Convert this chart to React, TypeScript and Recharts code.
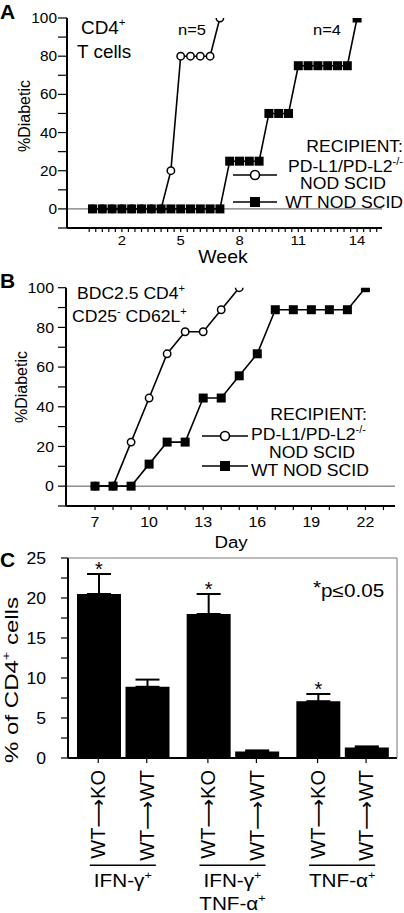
import React from 'react';
import { LineChart, Line, XAxis, YAxis, ReferenceLine, BarChart, Bar, ErrorBar } from 'recharts';

const FONT = '"Liberation Sans", Arial, Helvetica, "DejaVu Sans", sans-serif';

// ---------- Panel A : CD4+ T cells, % diabetic by week ----------
const weeksKO_A = [0.5, 1.0, 1.5, 2.0, 2.5, 3.0, 3.5, 4.0, 4.5, 5.0, 5.5, 6.0, 6.5, 7.0];
const diabeticKO_A = [0, 0, 0, 0, 0, 0, 0, 0, 20, 80, 80, 80, 80, 100];
const weeksWT_A = [0.5, 1.0, 1.5, 2.0, 2.5, 3.0, 3.5, 4.0, 4.5, 5.0, 5.5, 6.0, 6.5, 7.0, 7.5, 8.0, 8.5, 9.0, 9.5, 10.0, 10.5, 11.0, 11.5, 12.0, 12.5, 13.0, 13.5, 14.0];
const diabeticWT_A = [0, 0, 0, 0, 0, 0, 0, 0, 0, 0, 0, 0, 0, 0, 25, 25, 25, 25, 50, 50, 50, 75, 75, 75, 75, 75, 75, 100];
const weekLabels = [2, 5, 8, 11, 14];

// ---------- Panel B : BDC2.5 CD4+ CD25- CD62L+, % diabetic by day ----------
const daysKO_B = [7, 8, 9, 10, 11, 12, 13, 14, 15];
const diabeticKO_B = [0, 0, 22.2, 44.4, 66.7, 77.8, 77.8, 88.9, 100];
const daysWT_B = [7, 8, 9, 10, 11, 12, 13, 14, 15, 16, 17, 18, 19, 20, 21, 22];
const diabeticWT_B = [0, 0, 0, 11.1, 22.2, 22.2, 44.4, 44.4, 55.6, 66.7, 88.9, 88.9, 88.9, 88.9, 88.9, 100];
const dayLabels = [7, 10, 13, 16, 19, 22];
const dayTicks = [7, 8, 9, 10, 11, 12, 13, 14, 15, 16, 17, 18, 19, 20, 21, 22, 23];

const pctTicks = [-10, 0, 10, 20, 30, 40, 50, 60, 70, 80, 90, 100];

// ---------- Panel C : cytokine+ % of CD4+ cells ----------
const cytokineGroups = ['IFN-γ+', 'IFN-γ+ TNF-α+', 'TNF-α+'];
const groupLabelLines = [['IFN-γ'], ['IFN-γ', 'TNF-α'], ['TNF-α']];
const transferLabels = ['WT⟶KO', 'WT⟶WT'];
const pctKO_C = [20.5, 18.0, 7.1];
const semKO_C = [2.5, 2.5, 0.9];
const pctWT_C = [8.9, 0.8, 1.3];
const semWT_C = [0.9, 0.15, 0.15];
const significant = [true, true, true];
const cTicks = [0, 2.5, 5, 7.5, 10, 12.5, 15, 17.5, 20, 22.5, 25];

// minor week ticks every third of a week
const weekTicks = Array.from({ length: 45 }, (_, i) => (i + 1) / 3);

const koA = weeksKO_A.map((x, i) => ({ x, y: diabeticKO_A[i] }));
const wtA = weeksWT_A.map((x, i) => ({ x, y: diabeticWT_A[i] }));
const koB = daysKO_B.map((x, i) => ({ x, y: diabeticKO_B[i] }));
const wtB = daysWT_B.map((x, i) => ({ x, y: diabeticWT_B[i] }));
const cData = cytokineGroups.map((g, i) => ({
  group: g,
  ko: pctKO_C[i],
  koErr: [0, semKO_C[i]],
  wt: pctWT_C[i],
  wtErr: [0, semWT_C[i]],
}));

type TxtProps = {
  x: number; y: number; size: number; sx?: number;
  anchor?: 'start' | 'middle' | 'end'; rot?: boolean; bold?: boolean; children?: any;
};
const Txt = ({ x, y, size, sx = 1.1, anchor = 'start', rot = false, bold = false, children }: TxtProps) => (
  <text
    transform={rot ? `translate(${x},${y}) rotate(-90) scale(${sx},1)` : `translate(${x},${y}) scale(${sx},1)`}
    fontSize={size}
    textAnchor={anchor}
    fontFamily={FONT}
    fontWeight={bold ? 'bold' : 'normal'}
    fill="#000"
  >
    {children}
  </text>
);

const circleDot = (p: any) => (
  <circle key={`c${p.index}`} cx={p.cx} cy={p.cy} r={3.7} fill="#fff" stroke="#000" strokeWidth={1.5} />
);
const squareDot = (p: any) => (
  <rect key={`s${p.index}`} x={p.cx - 4.5} y={p.cy - 4.5} width={9} height={9} fill="#000" />
);

const pctTick = (dx: number, size: number) => (p: any) => {
  const v = p.payload.value;
  if (v < 0 || v % 20 !== 0) return <g />;
  return (
    <text transform={`translate(${p.x + dx},${p.y + size * 0.36}) scale(1.1,1)`} textAnchor="end" fontSize={size} fontFamily={FONT} fill="#000">
      {v}
    </text>
  );
};

const labelTick = (labels: number[], dy: number, size: number) => (p: any) => {
  const v = p.payload.value;
  const lab = labels.find((l) => Math.abs(l - v) < 1e-6);
  if (lab === undefined) return <g />;
  return (
    <text transform={`translate(${p.x},${p.y + dy}) scale(1.1,1)`} textAnchor="middle" fontSize={size} fontFamily={FONT} fill="#000">
      {lab}
    </text>
  );
};

const yTickC = (p: any) => {
  const v = p.payload.value;
  if (v % 5 !== 0) return <g />;
  return (
    <text transform={`translate(${p.x - 13},${p.y + 5.8}) scale(1.1,1)`} textAnchor="end" fontSize={16} fontFamily={FONT} fill="#000">
      {v}
    </text>
  );
};

const xTickC = (p: any) => {
  const i = typeof p.index === 'number' ? p.index : cytokineGroups.indexOf(p.payload.value);
  const cx = p.x;
  const ay = p.y;
  const offs = [-24.6, 23.9];
  return (
    <g>
      {offs.map((d, k) => (
        <g key={k}>
          <line x1={cx + d} x2={cx + d} y1={ay} y2={ay + 5} stroke="#000" strokeWidth={1.2} />
          <text
            transform={`translate(${cx + d + 7.2},${ay + 12}) rotate(-90)`}
            textAnchor="end"
            fontSize={20}
            fontFamily={FONT}
            fill="#000"
          >
            {transferLabels[k]}
          </text>
        </g>
      ))}
      <line x1={cx - 33} x2={cx + 33} y1={ay + 107.3} y2={ay + 107.3} stroke="#000" strokeWidth={1.5} />
      {(groupLabelLines[i] || []).map((s, j) => (
        <text
          key={j}
          transform={`translate(${cx},${ay + 128.5 + j * 23}) scale(1.15,1)`}
          textAnchor="middle"
          fontSize={18}
          fontFamily={FONT}
          fill="#000"
        >
          {s}
          <tspan fontSize={11} dy={-8}>+</tspan>
        </text>
      ))}
    </g>
  );
};

const starLabel = (p: any) => {
  const i = typeof p.index === 'number' ? p.index : pctKO_C.indexOf(p.value);
  if (i < 0 || !significant[i]) return <g />;
  const vb = p.viewBox && typeof p.viewBox.x === 'number' ? p.viewBox : p;
  const x = vb.x, y = vb.y, w = vb.width, h = vb.height;
  const topBar = Math.min(y, y + h);
  const top = topBar - (semKO_C[i] * Math.abs(h)) / pctKO_C[i];
  return (
    <text key={`st${i}`} x={x + w / 2} y={top + 2} textAnchor="middle" fontSize={20} fontFamily={FONT} fill="#000">
      *
    </text>
  );
};

const axisStyle = { stroke: '#000', strokeWidth: 1.8 };
const tickStyle = { stroke: '#000', strokeWidth: 1.2 };

export default function App() {
  return (
    <div style={{ position: 'absolute', left: 0, top: 0, width: 404, height: 913, background: '#fff', overflow: 'hidden' }}>
      {/* Panel A */}
      <div style={{ position: 'absolute', left: 0, top: 0 }}>
        <LineChart width={404} height={270} margin={{ top: 18, right: 22, bottom: 12, left: 27 }}>
          <XAxis
            type="number" dataKey="x" domain={[-0.8, 15.27]} ticks={weekTicks} interval={0}
            tickSize={4} height={30} allowDataOverflow axisLine={axisStyle} tickLine={tickStyle}
            tick={labelTick(weekLabels, 11, 13.5)}
          />
          <YAxis
            type="number" domain={[-10, 100]} ticks={pctTicks} interval={0} tickSize={9} width={40}
            allowDataOverflow axisLine={{ stroke: '#000', strokeWidth: 2 }} tickLine={tickStyle}
            tick={pctTick(1, 14)}
          />
          <ReferenceLine y={0} stroke="#555" strokeWidth={1} />
          <Line data={koA} dataKey="y" stroke="#000" strokeWidth={1.6} dot={circleDot} activeDot={false} isAnimationActive={false} />
          <Line data={wtA} dataKey="y" stroke="#000" strokeWidth={1.6} dot={squareDot} activeDot={false} isAnimationActive={false} />
        </LineChart>
      </div>

      {/* Panel B */}
      <div style={{ position: 'absolute', left: 0, top: 270 }}>
        <LineChart width={404} height={290} margin={{ top: 17.7, right: 9, bottom: 24, left: 26 }}>
          <XAxis
            type="number" dataKey="x" domain={[5.39, 23.64]} ticks={dayTicks} interval={0}
            tickSize={4} height={30} allowDataOverflow axisLine={axisStyle} tickLine={tickStyle}
            tick={labelTick(dayLabels, 14.5, 14.5)}
          />
          <YAxis
            type="number" domain={[-10, 100]} ticks={pctTicks} interval={0} tickSize={8} width={40}
            allowDataOverflow axisLine={{ stroke: '#000', strokeWidth: 2 }} tickLine={tickStyle}
            tick={pctTick(-2, 14.5)}
          />
          <ReferenceLine y={0} stroke="#555" strokeWidth={1} />
          <Line data={koB} dataKey="y" stroke="#000" strokeWidth={1.6} dot={circleDot} activeDot={false} isAnimationActive={false} />
          <Line data={wtB} dataKey="y" stroke="#000" strokeWidth={1.6} dot={squareDot} activeDot={false} isAnimationActive={false} />
        </LineChart>
      </div>

      {/* Panel C */}
      <div style={{ position: 'absolute', left: 0, top: 550 }}>
        <BarChart width={404} height={363} data={cData} margin={{ top: 8, right: 7, bottom: 55, left: 28 }} barSize={44} barGap={4.5}>
          <XAxis
            dataKey="group" type="category" interval={0} tickSize={0} tickMargin={0} tickLine={false}
            axisLine={axisStyle} height={100} tick={xTickC}
          />
          <YAxis
            type="number" domain={[0, 25]} ticks={cTicks} interval={0} tickSize={7} width={40}
            allowDataOverflow axisLine={{ stroke: '#000', strokeWidth: 2 }} tickLine={tickStyle} tick={yTickC}
          />
          <Bar dataKey="ko" fill="#000" isAnimationActive={false} label={starLabel}>
            <ErrorBar dataKey="koErr" width={12} strokeWidth={2} stroke="#000" direction="y" isAnimationActive={false} />
          </Bar>
          <Bar dataKey="wt" fill="#000" isAnimationActive={false}>
            <ErrorBar dataKey="wtErr" width={12} strokeWidth={2} stroke="#000" direction="y" isAnimationActive={false} />
          </Bar>
        </BarChart>
      </div>

      {/* Annotations */}
      <svg width={404} height={913} style={{ position: 'absolute', left: 0, top: 0, pointerEvents: 'none' }}>
        {/* Panel A text */}
        <Txt x={0} y={18.5} size={21} sx={1} bold>A</Txt>
        <Txt x={81} y={34} size={18} sx={1.05}>CD4<tspan fontSize={11} dy={-8}>+</tspan></Txt>
        <Txt x={77} y={58} size={18} sx={1.05}>T cells</Txt>
        <Txt x={178} y={35} size={15}>n=5</Txt>
        <Txt x={313} y={35} size={15}>n=4</Txt>
        <Txt x={403} y={151.5} size={16} anchor="end">RECIPIENT:</Txt>
        <Txt x={403} y={171.5} size={16} anchor="end">PD-L1/PD-L2<tspan fontSize={10} dy={-7}>-/-</tspan></Txt>
        <Txt x={343} y={189} size={16} anchor="middle">NOD SCID</Txt>
        <Txt x={403} y={208} size={16} anchor="end">WT NOD SCID</Txt>
        <line x1={233} x2={277} y1={175} y2={175} stroke="#000" strokeWidth={1.6} />
        <circle cx={255} cy={175} r={4.5} fill="#fff" stroke="#000" strokeWidth={1.6} />
        <line x1={233} x2={277} y1={202} y2={202} stroke="#000" strokeWidth={1.6} />
        <rect x={250} y={197} width={10} height={10} fill="#000" />
        <Txt x={30} y={116} size={16} sx={1} rot anchor="middle">%Diabetic</Txt>
        <Txt x={223} y={263} size={18} sx={1.08} anchor="middle">Week</Txt>

        {/* Panel B text */}
        <Txt x={0} y={288} size={21} sx={1} bold>B</Txt>
        <Txt x={77} y={299} size={16}>BDC2.5 CD4<tspan fontSize={10} dy={-7}>+</tspan></Txt>
        <Txt x={72} y={321.5} size={16}>
          CD25<tspan fontSize={10} dy={-7}>-</tspan><tspan dy={7}> CD62L</tspan><tspan fontSize={10} dy={-7}>+</tspan>
        </Txt>
        <Txt x={367} y={420} size={16} anchor="end">RECIPIENT:</Txt>
        <Txt x={251} y={440} size={16}>PD-L1/PD-L2<tspan fontSize={10} dy={-7}>-/-</tspan></Txt>
        <Txt x={312} y={457.5} size={16} anchor="middle">NOD SCID</Txt>
        <Txt x={251} y={475.5} size={16}>WT NOD SCID</Txt>
        <line x1={202} x2={248} y1={436} y2={436} stroke="#000" strokeWidth={1.6} />
        <circle cx={225} cy={436} r={4.5} fill="#fff" stroke="#000" strokeWidth={1.6} />
        <line x1={202} x2={248} y1={466} y2={466} stroke="#000" strokeWidth={1.6} />
        <rect x={220} y={461} width={10} height={10} fill="#000" />
        <Txt x={27} y={387} size={16} sx={1} rot anchor="middle">%Diabetic</Txt>
        <Txt x={231} y={548} size={17} anchor="middle">Day</Txt>

        {/* Panel C text */}
        <Txt x={0} y={567} size={21} sx={1} bold>C</Txt>
        <line x1={68} x2={397} y1={558} y2={558} stroke="#777" strokeWidth={1} />
        <line x1={397} x2={397} y1={558} y2={758} stroke="#777" strokeWidth={1} />
        <Txt x={313} y={597} size={18} sx={1.15}><tspan dy={-3}>*</tspan><tspan dy={3}>p≤0.05</tspan></Txt>
        <Txt x={18} y={680} size={18.5} sx={1.3} rot anchor="middle">
          % of CD4<tspan fontSize={11} dy={-8}>+</tspan><tspan dy={8}> cells</tspan>
        </Txt>
      </svg>
    </div>
  );
}
